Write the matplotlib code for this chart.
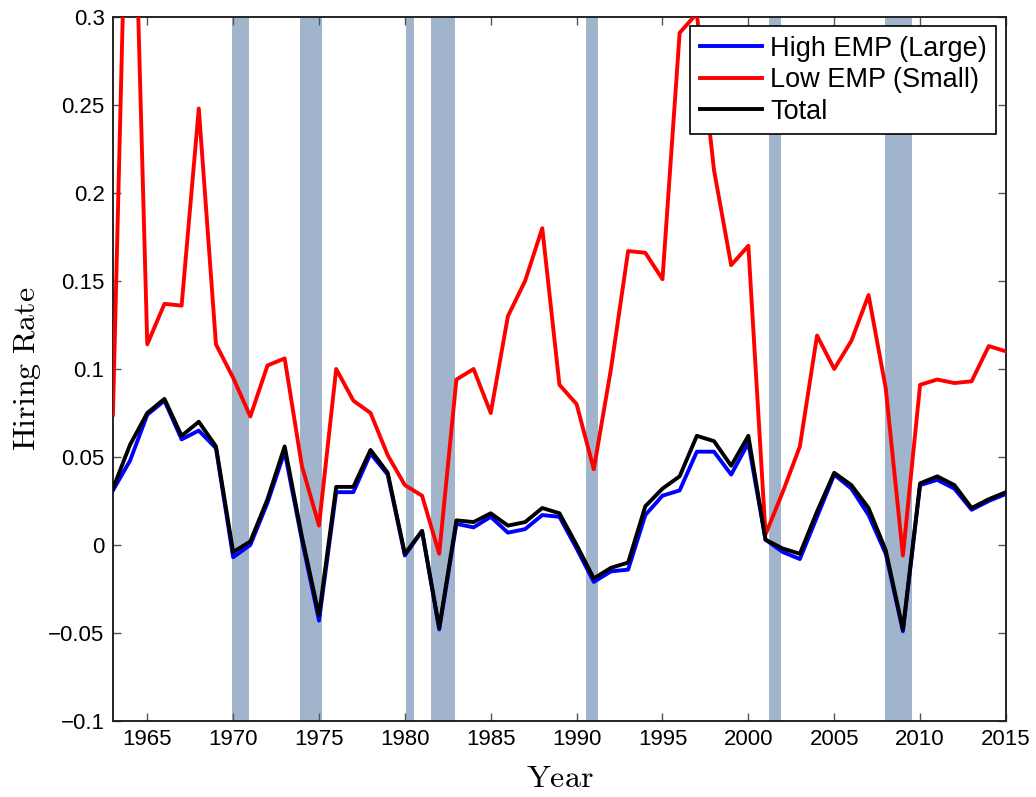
import matplotlib
matplotlib.use("Agg")
import matplotlib.pyplot as plt

years = list(range(1963, 2016))

high_emp = [0.031, 0.048, 0.074, 0.082, 0.060, 0.065, 0.055, -0.007, 0.000, 0.024,
            0.053, 0.003, -0.043, 0.030, 0.030, 0.052, 0.040, -0.006, 0.008, -0.048,
            0.012, 0.010, 0.016, 0.007, 0.009, 0.017, 0.016, -0.002, -0.021, -0.015,
            -0.014, 0.017, 0.028, 0.031, 0.053, 0.053, 0.040, 0.058, 0.003, -0.004,
            -0.008, 0.016, 0.040, 0.032, 0.017, -0.005, -0.049, 0.034, 0.037, 0.032,
            0.020, 0.025, 0.029]

low_emp = [0.074, 0.470, 0.114, 0.137, 0.136, 0.248, 0.114, 0.095, 0.073, 0.102,
           0.106, 0.045, 0.011, 0.100, 0.082, 0.075, 0.051, 0.034, 0.028, -0.005,
           0.094, 0.100, 0.075, 0.130, 0.150, 0.180, 0.091, 0.080, 0.043, 0.100,
           0.167, 0.166, 0.151, 0.291, 0.302, 0.213, 0.159, 0.170, 0.006, 0.030,
           0.056, 0.119, 0.100, 0.116, 0.142, 0.089, -0.006, 0.091, 0.094, 0.092,
           0.093, 0.113, 0.110]

total = [0.032, 0.057, 0.075, 0.083, 0.062, 0.070, 0.056, -0.004, 0.002, 0.026,
         0.056, 0.005, -0.040, 0.033, 0.033, 0.054, 0.041, -0.005, 0.008, -0.047,
         0.014, 0.013, 0.018, 0.011, 0.013, 0.021, 0.018, 0.000, -0.019, -0.013,
         -0.010, 0.022, 0.032, 0.039, 0.062, 0.059, 0.045, 0.062, 0.003, -0.002,
         -0.005, 0.019, 0.041, 0.034, 0.021, -0.003, -0.048, 0.035, 0.039, 0.034,
         0.021, 0.026, 0.030]

# NBER recessions (start, end) in fractional years
recessions = [(1969.95, 1970.9), (1973.9, 1975.2), (1980.05, 1980.55),
              (1981.55, 1982.9), (1990.55, 1991.25), (2001.2, 2001.9),
              (2007.95, 2009.5)]

xticks = [1965, 1970, 1975, 1980, 1985, 1990, 1995, 2000, 2005, 2010, 2015]
yticks = [-0.1, -0.05, 0, 0.05, 0.1, 0.15, 0.2, 0.25, 0.3]
ytick_labels = ["\u22120.1", "\u22120.05", "0", "0.05", "0.1", "0.15", "0.2", "0.25", "0.3"]

plt.rcParams["font.family"] = ["Liberation Sans", "DejaVu Sans"]
plt.rcParams["mathtext.fontset"] = "cm"

fig = plt.figure(figsize=(10.36, 7.97), dpi=100)
ax = fig.add_axes([0.109, 0.0954, 0.862, 0.8833])

for s, e in recessions:
    ax.axvspan(s, e, color="#a0b5cc", lw=0, zorder=1)

ax.plot(years, high_emp, color="#0000ff", lw=2.8, label="High EMP (Large)", zorder=3)
ax.plot(years, low_emp, color="#ff0000", lw=2.8, label="Low EMP (Small)", zorder=3)
ax.plot(years, total, color="black", lw=2.8, label="Total", zorder=4)

ax.set_xlim(1963, 2015)
ax.set_ylim(-0.1, 0.3)
ax.set_xticks(xticks)
ax.set_yticks(yticks)
ax.set_yticklabels(ytick_labels)
ax.tick_params(direction="in", top=True, right=True, length=6, width=1,
               labelsize=16, color="#555555", pad=6)
for sp in ax.spines.values():
    sp.set_linewidth(1.4)
    sp.set_color("#222222")

ax.set_xlabel(r"$\mathrm{Year}$", fontsize=23, labelpad=10)
ax.set_ylabel(r"$\mathrm{Hiring\ Rate}$", fontsize=23, labelpad=4)

leg = ax.legend(loc="upper right", fontsize=19.5, frameon=True, fancybox=False,
                borderaxespad=0.35, handlelength=2.3, handletextpad=0.3,
                labelspacing=0.2, borderpad=0.35)
leg.get_frame().set_edgecolor("black")
leg.get_frame().set_linewidth(1.2)
leg.get_frame().set_alpha(1)

fig.savefig("out.png", dpi=100)
